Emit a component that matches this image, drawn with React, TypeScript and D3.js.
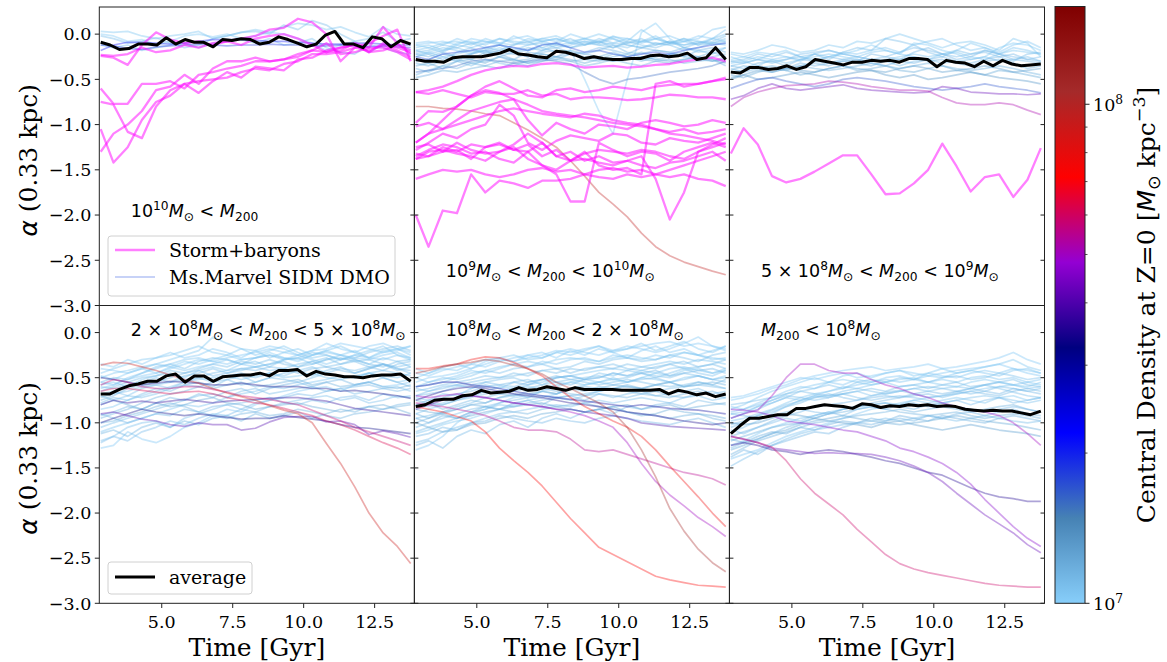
import React from "react";
import * as d3 from "d3";

// ---------- time grids (Gyr) ----------
const T_FINE = [2.85, 3.18, 3.51, 3.84, 4.17, 4.5, 4.83, 5.16, 5.49, 5.82, 6.15, 6.48, 6.81, 7.14, 7.47, 7.8, 8.13, 8.46, 8.79, 9.12, 9.45, 9.78, 10.11, 10.44, 10.77, 11.1, 11.43, 11.76, 12.09, 12.42, 12.75, 13.08, 13.41, 13.77];
const T_COARSE = [2.85, 3.3, 3.8, 4.3, 4.8, 5.3, 5.8, 6.3, 6.8, 7.3, 7.8, 8.3, 8.8, 9.3, 9.8, 10.3, 10.8, 11.3, 11.8, 12.3, 12.8, 13.3, 13.77];

const X_TICKS = [5, 7.5, 10, 12.5];
const Y_TICKS = [-3, -2.5, -2, -1.5, -1, -0.5, 0];
const CB_MAJOR = [1e7, 1e8];
const CB_MINOR = [2e7, 3e7, 4e7, 5e7, 6e7, 7e7, 8e7, 9e7];
const CMAP_COLORS = ["lightskyblue", "steelblue", "blue", "navy", "darkviolet", "red", "brown", "maroon"];
const DENS_MIN = 1e7;
const DENS_MAX = 1.57e8;

// ---------- panel 1 : 1e10 < M200 ----------
const P1_AVG = [-0.09, -0.12, -0.17, -0.16, -0.11, -0.11, -0.12, -0.04, -0.11, -0.06, -0.09, -0.09, -0.14, -0.06, -0.07, -0.05, -0.06, -0.11, -0.09, -0.03, -0.06, -0.10, -0.14, -0.11, -0.01, 0.03, -0.11, -0.11, -0.15, -0.03, -0.05, -0.14, -0.07, -0.11];
const P1_STORM = [
  [-0.24, -0.26, -0.34, -0.12, 0.02, -0.06, -0.10, -0.08, -0.12, -0.08, -0.05, -0.02, 0.05, 0.07, 0.17, 0.13, 0.00, -0.30, -0.15, -0.10, -0.02, 0.05, -0.30],
  [-0.60, -0.77, -0.77, -0.55, -0.55, -0.52, -0.60, -0.45, -0.42, -0.38, -0.35, -0.30, -0.30, -0.28, -0.22, -0.18, -0.20, -0.15, -0.12, -0.20, -0.10, -0.15, -0.20],
  [-1.05, -1.42, -1.25, -0.95, -0.75, -0.68, -0.55, -0.52, -0.50, -0.48, -0.42, -0.38, -0.40, -0.33, -0.30, -0.22, -0.22, -0.20, -0.15, -0.18, -0.12, -0.18, -0.25],
  [-1.30, -1.10, -1.00, -0.85, -0.62, -0.58, -0.45, -0.55, -0.38, -0.30, -0.30, -0.26, -0.30, -0.28, -0.25, -0.18, -0.10, -0.22, -0.20, -0.15, -0.15, -0.20, -0.28],
  [-0.75, -0.78, -1.08, -1.15, -0.80, -0.62, -0.55, -0.65, -0.52, -0.42, -0.48, -0.36, -0.38, -0.40, -0.28, -0.26, -0.18, -0.15, -0.12, -0.20, -0.18, -0.12, -0.18],
  [-0.23, -0.24, -0.22, -0.15, -0.20, -0.18, -0.12, -0.15, -0.10, -0.08, -0.12, -0.05, -0.02, 0.00, -0.05, -0.12, -0.20, -0.18, -0.10, -0.15, 0.08, -0.10, -0.22],
];
const P1_DMO = [
  [1.05e7, [0.03, 0.02, 0.03, -0.02, -0.05, -0.02, 0.00, 0.03, -0.05, -0.02, 0.02, 0.05, 0.02, 0.08, 0.12, 0.10, 0.05, 0.08, 0.02, -0.03, 0.08, 0.00, -0.02]],
  [1.1e7, [-0.02, -0.05, -0.10, -0.08, -0.04, -0.10, -0.15, -0.12, -0.05, -0.02, 0.02, 0.03, 0.00, 0.10, 0.05, 0.15, 0.10, 0.00, -0.08, -0.05, 0.02, -0.08, -0.05]],
  [1.08e7, [-0.12, -0.15, -0.12, -0.18, -0.15, -0.12, -0.10, -0.15, -0.10, -0.08, -0.06, -0.10, -0.05, -0.12, -0.10, -0.05, -0.15, -0.20, -0.22, -0.12, -0.15, -0.20, -0.22]],
  [1.02e7, [0.00, -0.02, -0.08, -0.06, -0.12, -0.08, -0.02, 0.00, -0.03, 0.00, -0.05, -0.02, 0.02, 0.00, -0.05, -0.10, -0.18, -0.12, -0.08, -0.20, -0.12, -0.12, -0.18]],
  [2.1e7, [-0.18, -0.12, -0.09, -0.09, -0.10, -0.11, -0.10, -0.08, -0.06, -0.06, -0.06, -0.07, -0.08, -0.08, -0.09, -0.10, -0.11, -0.11, -0.10, -0.10, -0.11, -0.12, -0.12]],
  [1.9e7, [-0.12, -0.13, -0.16, -0.17, -0.14, -0.13, -0.12, -0.11, -0.12, -0.13, -0.12, -0.12, -0.11, -0.12, -0.12, -0.13, -0.13, -0.12, -0.13, -0.14, -0.13, -0.14, -0.15]],
];

// ---------- panel 2 : 1e9 < M200 < 1e10 ----------
const P2_AVG = [-0.28, -0.30, -0.30, -0.31, -0.26, -0.25, -0.25, -0.25, -0.23, -0.21, -0.17, -0.22, -0.23, -0.25, -0.26, -0.19, -0.20, -0.23, -0.27, -0.25, -0.27, -0.28, -0.28, -0.27, -0.27, -0.24, -0.23, -0.25, -0.24, -0.21, -0.28, -0.26, -0.15, -0.28];
const P2_STORM = [
  [-0.64, -0.62, -0.58, -0.52, -0.45, -0.40, -0.37, -0.35, -0.36, -0.33, -0.32, -0.34, -0.37, -0.36, -0.35, -0.37, -0.36, -0.34, -0.33, -0.30, -0.28, -0.26, -0.30],
  [-0.64, -0.66, -0.62, -0.66, -0.70, -0.64, -0.66, -0.66, -0.62, -0.68, -0.66, -0.72, -0.70, -0.70, -0.71, -0.73, -0.72, -0.70, -0.67, -0.68, -0.70, -0.70, -0.72],
  [-0.98, -0.85, -0.86, -0.80, -0.68, -0.58, -0.52, -0.60, -0.68, -0.70, -0.62, -0.60, -0.64, -0.62, -0.58, -0.60, -0.62, -0.58, -0.56, -0.55, -0.55, -0.52, -0.50],
  [-1.02, -0.98, -1.05, -0.95, -0.85, -0.80, -0.75, -0.72, -0.95, -1.12, -0.98, -1.05, -1.10, -1.00, -1.02, -1.05, -0.98, -0.95, -0.98, -1.02, -1.00, -0.95, -0.98],
  [-1.28, -1.20, -1.10, -1.15, -1.05, -1.00, -0.78, -0.90, -1.20, -1.28, -1.18, -1.12, -1.15, -1.18, -1.10, -1.12, -1.20, -1.22, -1.15, -1.18, -1.20, -1.15, -1.10],
  [-1.32, -1.35, -1.30, -1.28, -1.38, -1.25, -1.22, -1.28, -1.30, -1.20, -1.35, -1.40, -1.32, -1.28, -1.30, -1.32, -1.28, -1.30, -1.35, -1.38, -1.30, -1.25, -1.20],
  [-1.38, -1.30, -1.28, -1.32, -1.35, -1.40, -1.30, -1.25, -1.38, -1.45, -1.50, -1.40, -1.38, -1.42, -1.45, -1.40, -1.45, -1.48, -1.42, -1.40, -1.35, -1.30, -1.40],
  [-1.60, -1.55, -1.50, -1.52, -1.50, -1.55, -1.58, -1.55, -1.50, -1.48, -1.52, -1.50, -1.55, -1.50, -1.48, -1.52, -1.50, -1.55, -1.58, -1.55, -1.60, -1.62, -1.68],
  [-2.00, -2.35, -1.95, -1.98, -1.55, -1.75, -1.62, -1.65, -1.70, -1.62, -1.62, -1.60, -1.55, -1.58, -1.60, -1.55, -1.58, -1.55, -1.50, -1.45, -1.40, -1.35, -1.30],
  [-1.38, -1.35, -1.25, -1.30, -1.22, -1.25, -1.20, -1.28, -1.22, -1.35, -1.28, -1.40, -1.30, -1.45, -1.50, -1.48, -1.55, -0.55, -0.52, -0.58, -0.55, -0.52, -0.48],
  [-1.25, -1.22, -1.30, -1.20, -1.28, -1.32, -1.30, -1.22, -1.10, -1.20, -1.35, -1.30, -1.40, -1.35, -1.42, -1.40, -1.35, -1.60, -2.05, -1.75, -1.30, -1.22, -1.15],
  [-1.35, -1.28, -1.22, -1.25, -1.32, -1.30, -1.38, -1.42, -1.30, -1.45, -1.55, -1.85, -1.85, -1.20, -1.28, -1.35, -1.30, -1.32, -1.40, -1.30, -1.25, -1.20, -1.25],
  [-1.20, -1.10, -0.95, -0.80, -0.68, -0.62, -0.65, -0.72, -0.78, -0.85, -0.88, -0.90, -0.92, -0.95, -0.98, -1.00, -1.02, -1.05, -1.10, -1.12, -1.15, -1.18, -1.22],
  [-1.20, -1.10, -1.05, -1.00, -0.95, -0.90, -0.85, -0.82, -0.85, -0.88, -0.90, -0.92, -0.88, -0.90, -0.95, -0.98, -1.00, -1.05, -1.08, -1.05, -1.10, -1.08, -1.05],
];
const P2_DMO = [
  [1.05e7, [-0.15, -0.12, -0.18, -0.10, -0.08, -0.12, -0.05, -0.08, -0.10, -0.05, -0.02, -0.08, -0.05, -0.10, -0.02, -0.08, 0.05, -0.05, -0.10, -0.08, -0.12, -0.05, 0.05]],
  [1.1e7, [-0.20, -0.18, -0.12, -0.15, -0.10, -0.15, -0.18, -0.12, -0.08, -0.15, -0.10, -0.05, -0.12, -0.08, -0.15, -0.10, -0.05, -0.12, -0.08, -0.15, -0.10, -0.08, -0.02]],
  [1.12e7, [-0.25, -0.22, -0.28, -0.20, -0.15, -0.22, -0.18, -0.20, -0.25, -0.18, -0.15, -0.20, -0.22, -0.18, -0.12, -0.20, -0.22, -0.18, -0.20, -0.15, -0.18, -0.22, -0.15]],
  [1.15e7, [-0.30, -0.28, -0.22, -0.25, -0.28, -0.20, -0.22, -0.28, -0.20, -0.22, -0.25, -0.18, -0.22, -0.25, -0.20, -0.25, -0.20, -0.25, -0.22, -0.20, -0.25, -0.20, -0.25]],
  [1.05e7, [-0.12, -0.15, -0.10, -0.08, -0.12, -0.05, -0.10, -0.12, -0.05, -0.08, -0.12, -0.10, -0.05, 0.00, -0.05, -0.10, -0.08, -0.02, -0.10, -0.05, -0.08, -0.10, -0.12]],
  [1.2e7, [-0.35, -0.32, -0.38, -0.30, -0.28, -0.32, -0.25, -0.30, -0.28, -0.22, -0.25, -0.28, -0.32, -0.28, -0.30, -0.25, -0.28, -0.30, -0.32, -0.28, -0.25, -0.30, -0.28]],
  [1.15e7, [-0.45, -0.40, -0.35, -0.38, -0.32, -0.35, -0.30, -0.28, -0.32, -0.30, -0.25, -0.30, -0.35, -0.32, -0.28, -0.32, -0.35, -0.30, -0.28, -0.32, -0.30, -0.28, -0.35]],
  [1.08e7, [-0.18, -0.22, -0.18, -0.15, -0.20, -0.18, -0.12, -0.15, -0.18, -0.12, -0.10, -0.15, -0.12, -0.05, -0.10, -0.12, -0.15, -0.10, -0.12, -0.18, -0.15, -0.10, -0.08]],
  [1.02e7, [-0.25, -0.20, -0.25, -0.22, -0.18, -0.20, -0.15, -0.20, -0.18, -0.15, -0.20, -0.18, -0.50, -0.85, -1.10, -0.50, 0.02, 0.12, -0.05, -0.15, -0.20, -0.18, -0.15]],
  [1.04e7, [-0.10, -0.08, -0.12, -0.05, -0.10, -0.08, -0.12, -0.02, -0.08, -0.05, -0.08, 0.00, -0.05, -0.08, -0.03, -0.05, -0.10, -0.05, -0.02, -0.08, -0.05, 0.05, 0.08]],
  [1.1e7, [-0.38, -0.42, -0.35, -0.30, -0.35, -0.28, -0.32, -0.35, -0.30, -0.25, -0.28, -0.22, -0.25, -0.28, -0.22, -0.25, -0.30, -0.25, -0.22, -0.25, -0.28, -0.25, -0.22]],
  [1.12e7, [-0.22, -0.25, -0.20, -0.25, -0.22, -0.18, -0.20, -0.22, -0.25, -0.20, -0.18, -0.22, -0.20, -0.15, -0.18, -0.22, -0.15, -0.18, -0.20, -0.25, -0.18, -0.15, -0.20]],
  [1.1e7, [-0.28, -0.32, -0.25, -0.30, -0.22, -0.18, -0.25, -0.20, -0.15, -0.18, -0.12, -0.15, -0.10, -0.12, -0.15, -0.08, -0.12, -0.15, -0.10, -0.05, -0.12, -0.10, -0.05]],
  [1.06e7, [-0.18, -0.15, -0.20, -0.12, -0.15, -0.10, -0.05, -0.10, -0.12, -0.08, -0.05, -0.10, -0.12, -0.08, -0.12, -0.15, -0.08, -0.05, -0.10, -0.12, -0.08, -0.12, -0.10]],
  [1.14e7, [-0.32, -0.35, -0.30, -0.28, -0.32, -0.30, -0.25, -0.28, -0.32, -0.28, -0.25, -0.22, -0.28, -0.30, -0.25, -0.22, -0.25, -0.28, -0.25, -0.22, -0.28, -0.30, -0.25]],
  [1.03e7, [-0.12, -0.10, -0.08, -0.12, -0.05, -0.08, -0.10, -0.05, -0.02, -0.08, -0.05, -0.10, -0.08, -0.12, -0.10, -0.05, -0.08, -0.10, -0.12, -0.08, -0.02, -0.05, -0.08]],
  [1.18e7, [-0.48, -0.45, -0.40, -0.42, -0.38, -0.35, -0.38, -0.32, -0.35, -0.30, -0.28, -0.30, -0.28, -0.25, -0.30, -0.28, -0.25, -0.28, -0.30, -0.28, -0.25, -0.28, -0.32]],
  [1.07e7, [-0.22, -0.20, -0.15, -0.18, -0.22, -0.15, -0.12, -0.18, -0.12, -0.10, -0.15, -0.12, -0.08, -0.10, -0.05, -0.12, -0.15, -0.12, -0.08, -0.12, -0.10, -0.05, 0.00]],
  [1.6e7, [-0.42, -0.40, -0.38, -0.35, -0.30, -0.28, -0.30, -0.32, -0.30, -0.28, -0.30, -0.33, -0.42, -0.50, -0.55, -0.50, -0.48, -0.45, -0.42, -0.40, -0.38, -0.35, -0.30]],
  [1.8e7, [-0.25, -0.28, -0.22, -0.20, -0.18, -0.15, -0.12, -0.15, -0.18, -0.12, -0.10, -0.15, -0.20, -0.18, -0.22, -0.25, -0.22, -0.20, -0.22, -0.18, -0.15, -0.12, -0.10]],
  [9.5e7, [-0.80, -0.80, -0.82, -0.83, -0.85, -0.88, -0.90, -0.98, -1.06, -1.15, -1.25, -1.40, -1.57, -1.75, -1.88, -2.02, -2.20, -2.35, -2.45, -2.52, -2.57, -2.62, -2.66]],
];

// ---------- panel 3 : 5e8 < M200 < 1e9 ----------
const P3_AVG = [-0.42, -0.43, -0.37, -0.37, -0.39, -0.38, -0.35, -0.39, -0.36, -0.28, -0.30, -0.32, -0.34, -0.31, -0.31, -0.29, -0.30, -0.29, -0.31, -0.27, -0.27, -0.28, -0.36, -0.29, -0.31, -0.32, -0.36, -0.30, -0.35, -0.29, -0.33, -0.35, -0.34, -0.33];
const P3_STORM = [
  [-1.32, -1.04, -1.22, -1.57, -1.64, -1.60, -1.52, -1.43, -1.34, -1.34, -1.55, -1.77, -1.76, -1.65, -1.50, -1.21, -1.46, -1.74, -1.58, -1.55, -1.80, -1.61, -1.26],
];
const P3_DMO = [
  [1.05e7, [-0.20, -0.22, -0.18, -0.12, -0.15, -0.20, -0.18, -0.12, -0.15, -0.08, -0.10, -0.05, 0.00, -0.05, -0.10, -0.15, -0.10, -0.08, -0.12, -0.18, -0.05, -0.10, -0.25]],
  [1.1e7, [-0.30, -0.28, -0.22, -0.25, -0.20, -0.25, -0.22, -0.28, -0.20, -0.15, -0.18, -0.05, -0.08, -0.12, -0.20, -0.25, -0.18, -0.22, -0.20, -0.25, -0.30, -0.22, -0.20]],
  [1.12e7, [-0.35, -0.38, -0.32, -0.30, -0.35, -0.28, -0.30, -0.25, -0.28, -0.30, -0.22, -0.25, -0.28, -0.20, -0.15, -0.22, -0.28, -0.25, -0.18, -0.22, -0.28, -0.30, -0.32]],
  [1.15e7, [-0.40, -0.35, -0.38, -0.42, -0.38, -0.35, -0.32, -0.35, -0.30, -0.32, -0.35, -0.30, -0.28, -0.25, -0.30, -0.28, -0.32, -0.35, -0.30, -0.28, -0.32, -0.38, -0.35]],
  [1.2e7, [-0.45, -0.48, -0.42, -0.38, -0.40, -0.45, -0.42, -0.38, -0.35, -0.40, -0.38, -0.35, -0.40, -0.42, -0.38, -0.35, -0.40, -0.42, -0.45, -0.40, -0.42, -0.45, -0.48]],
  [1.05e7, [-0.25, -0.30, -0.25, -0.28, -0.32, -0.28, -0.25, -0.22, -0.25, -0.28, -0.30, -0.28, -0.25, -0.22, -0.25, -0.22, -0.18, -0.10, -0.15, -0.22, -0.18, -0.20, -0.22]],
  [1.3e7, [-0.50, -0.45, -0.50, -0.48, -0.45, -0.42, -0.45, -0.48, -0.45, -0.42, -0.40, -0.45, -0.48, -0.45, -0.50, -0.48, -0.45, -0.42, -0.45, -0.48, -0.50, -0.52, -0.55]],
  [1.08e7, [-0.35, -0.32, -0.28, -0.32, -0.28, -0.25, -0.30, -0.32, -0.28, -0.25, -0.28, -0.30, -0.35, -0.30, -0.28, -0.32, -0.30, -0.28, -0.25, -0.30, -0.28, -0.25, -0.30]],
  [1.02e7, [-0.28, -0.25, -0.20, -0.22, -0.18, -0.25, -0.28, -0.25, -0.22, -0.18, -0.12, -0.18, -0.22, -0.10, -0.12, -0.18, -0.22, -0.28, -0.25, -0.15, -0.10, -0.12, -0.18]],
  [1.15e7, [-0.42, -0.40, -0.35, -0.38, -0.40, -0.35, -0.38, -0.40, -0.38, -0.35, -0.32, -0.35, -0.38, -0.35, -0.32, -0.35, -0.38, -0.40, -0.38, -0.35, -0.38, -0.42, -0.45]],
  [1.04e7, [-0.32, -0.30, -0.35, -0.28, -0.25, -0.30, -0.22, -0.25, -0.20, -0.22, -0.18, -0.15, -0.20, -0.12, -0.08, -0.05, -0.12, -0.18, -0.15, -0.20, -0.12, -0.08, -0.15]],
  [1.12e7, [-0.38, -0.42, -0.38, -0.35, -0.38, -0.32, -0.35, -0.32, -0.30, -0.28, -0.32, -0.35, -0.30, -0.32, -0.28, -0.25, -0.30, -0.32, -0.28, -0.25, -0.22, -0.28, -0.30]],
  [1.06e7, [-0.22, -0.25, -0.28, -0.22, -0.25, -0.28, -0.22, -0.18, -0.22, -0.25, -0.20, -0.18, -0.22, -0.25, -0.28, -0.22, -0.20, -0.25, -0.28, -0.22, -0.15, -0.18, -0.22]],
  [1.25e7, [-0.48, -0.45, -0.40, -0.42, -0.38, -0.40, -0.42, -0.38, -0.35, -0.38, -0.40, -0.42, -0.38, -0.35, -0.38, -0.42, -0.40, -0.38, -0.35, -0.38, -0.42, -0.40, -0.38]],
  [1.09e7, [-0.30, -0.32, -0.28, -0.30, -0.28, -0.22, -0.20, -0.18, -0.22, -0.25, -0.28, -0.25, -0.20, -0.15, -0.18, -0.22, -0.25, -0.22, -0.18, -0.22, -0.25, -0.28, -0.25]],
  [1.7e7, [-0.60, -0.55, -0.50, -0.48, -0.52, -0.55, -0.58, -0.55, -0.50, -0.48, -0.50, -0.52, -0.55, -0.58, -0.60, -0.62, -0.60, -0.58, -0.55, -0.58, -0.60, -0.62, -0.65]],
  [4.2e7, [-0.72, -0.68, -0.60, -0.55, -0.60, -0.62, -0.60, -0.58, -0.56, -0.60, -0.62, -0.63, -0.64, -0.65, -0.64, -0.58, -0.60, -0.64, -0.65, -0.66, -0.66, -0.67, -0.66]],
  [5.2e7, [-0.80, -0.70, -0.64, -0.60, -0.57, -0.56, -0.55, -0.52, -0.53, -0.55, -0.58, -0.60, -0.62, -0.62, -0.63, -0.70, -0.76, -0.78, -0.78, -0.76, -0.78, -0.84, -0.89]],
];

// ---------- panel 4 : 2e8 < M200 < 5e8 ----------
const P4_AVG = [-0.68, -0.68, -0.63, -0.59, -0.57, -0.54, -0.54, -0.48, -0.46, -0.55, -0.48, -0.48, -0.54, -0.49, -0.48, -0.47, -0.47, -0.45, -0.48, -0.42, -0.42, -0.41, -0.48, -0.43, -0.46, -0.47, -0.49, -0.49, -0.50, -0.48, -0.47, -0.47, -0.46, -0.54];
const P4_DMO = [
  [1.05e7, [-0.45, -0.40, -0.35, -0.30, -0.28, -0.25, -0.20, -0.15, -0.22, -0.25, -0.18, -0.20, -0.28, -0.22, -0.18, -0.25, -0.20, -0.15, -0.22, -0.28, -0.20, -0.18, -0.25]],
  [1.08e7, [-0.55, -0.50, -0.52, -0.45, -0.38, -0.35, -0.40, -0.32, -0.28, -0.30, -0.35, -0.28, -0.25, -0.30, -0.28, -0.22, -0.25, -0.30, -0.28, -0.22, -0.18, -0.15, -0.20]],
  [1.1e7, [-0.65, -0.60, -0.55, -0.50, -0.48, -0.42, -0.45, -0.40, -0.35, -0.38, -0.32, -0.35, -0.30, -0.35, -0.38, -0.32, -0.28, -0.35, -0.30, -0.35, -0.38, -0.32, -0.30]],
  [1.12e7, [-0.75, -0.70, -0.62, -0.58, -0.55, -0.50, -0.45, -0.42, -0.48, -0.45, -0.40, -0.42, -0.38, -0.40, -0.45, -0.40, -0.38, -0.42, -0.45, -0.40, -0.35, -0.40, -0.42]],
  [1.05e7, [-0.85, -0.82, -0.75, -0.70, -0.65, -0.60, -0.55, -0.52, -0.50, -0.48, -0.52, -0.48, -0.45, -0.50, -0.48, -0.45, -0.50, -0.52, -0.48, -0.45, -0.50, -0.55, -0.52]],
  [1.15e7, [-0.95, -0.90, -0.85, -0.78, -0.72, -0.68, -0.65, -0.60, -0.62, -0.58, -0.55, -0.60, -0.58, -0.55, -0.52, -0.58, -0.55, -0.60, -0.58, -0.55, -0.60, -0.62, -0.58]],
  [1.1e7, [-1.05, -1.00, -0.95, -0.90, -0.85, -0.80, -0.75, -0.70, -0.68, -0.72, -0.65, -0.62, -0.68, -0.65, -0.62, -0.60, -0.65, -0.62, -0.68, -0.65, -0.62, -0.60, -0.65]],
  [1.08e7, [-1.20, -1.15, -1.05, -1.00, -0.98, -1.05, -0.95, -0.90, -0.85, -0.80, -0.78, -0.75, -0.72, -0.78, -0.75, -0.72, -0.70, -0.75, -0.72, -0.78, -0.75, -0.70, -0.72]],
  [1.03e7, [-1.28, -1.25, -1.10, -1.18, -1.22, -1.15, -1.05, -1.00, -0.92, -0.85, -0.88, -0.80, -0.75, -0.70, -0.65, -0.62, -0.60, -0.65, -0.58, -0.55, -0.60, -0.58, -0.55]],
  [1.2e7, [-0.70, -0.75, -0.80, -0.85, -0.78, -0.82, -0.80, -0.75, -0.72, -0.78, -0.80, -0.85, -0.82, -0.80, -0.78, -0.82, -0.85, -0.88, -0.85, -0.82, -0.80, -0.85, -0.90]],
  [1.05e7, [-0.50, -0.45, -0.42, -0.38, -0.35, -0.30, -0.25, -0.20, -0.05, -0.12, -0.18, -0.25, -0.20, -0.15, -0.22, -0.28, -0.25, -0.30, -0.25, -0.20, -0.15, -0.25, -0.30]],
  [1.1e7, [-0.60, -0.62, -0.58, -0.55, -0.50, -0.55, -0.48, -0.45, -0.40, -0.45, -0.42, -0.38, -0.35, -0.32, -0.38, -0.35, -0.30, -0.28, -0.32, -0.38, -0.42, -0.35, -0.32]],
  [1.12e7, [-0.90, -0.95, -1.00, -0.95, -0.90, -0.92, -0.85, -0.88, -0.82, -0.80, -0.85, -0.78, -0.75, -0.72, -0.68, -0.70, -0.65, -0.62, -0.60, -0.58, -0.62, -0.65, -0.62]],
  [1.04e7, [-0.40, -0.42, -0.45, -0.40, -0.35, -0.38, -0.42, -0.38, -0.35, -0.30, -0.35, -0.38, -0.35, -0.30, -0.25, -0.30, -0.35, -0.30, -0.25, -0.28, -0.30, -0.25, -0.28]],
  [1.1e7, [-0.80, -0.75, -0.70, -0.72, -0.68, -0.62, -0.58, -0.60, -0.55, -0.52, -0.58, -0.55, -0.50, -0.52, -0.55, -0.50, -0.45, -0.48, -0.50, -0.45, -0.42, -0.45, -0.48]],
  [1.06e7, [-1.10, -1.05, -1.00, -0.95, -0.90, -0.85, -0.80, -0.82, -0.78, -0.72, -0.68, -0.65, -0.60, -0.62, -0.58, -0.55, -0.52, -0.48, -0.50, -0.45, -0.48, -0.50, -0.45]],
  [1.03e7, [-0.55, -0.58, -0.52, -0.48, -0.45, -0.40, -0.35, -0.30, -0.32, -0.28, -0.25, -0.22, -0.18, -0.22, -0.25, -0.20, -0.18, -0.12, -0.15, -0.18, -0.22, -0.20, -0.15]],
  [1.08e7, [-0.72, -0.68, -0.65, -0.60, -0.58, -0.55, -0.52, -0.50, -0.45, -0.42, -0.40, -0.38, -0.42, -0.40, -0.35, -0.32, -0.38, -0.35, -0.32, -0.30, -0.35, -0.38, -0.35]],
  [1.15e7, [-1.00, -0.98, -0.92, -0.88, -0.82, -0.78, -0.82, -0.88, -0.92, -0.95, -0.90, -0.88, -0.92, -0.90, -0.85, -0.88, -0.92, -0.95, -0.90, -0.88, -0.85, -0.82, -0.80]],
  [1.04e7, [-0.62, -0.58, -0.50, -0.45, -0.40, -0.35, -0.30, -0.28, -0.32, -0.35, -0.30, -0.28, -0.25, -0.28, -0.30, -0.25, -0.22, -0.25, -0.28, -0.30, -0.25, -0.22, -0.28]],
  [1.09e7, [-1.22, -1.15, -1.20, -1.10, -1.05, -0.98, -1.02, -0.95, -0.90, -0.92, -0.85, -0.88, -0.82, -0.78, -0.80, -0.75, -0.78, -0.72, -0.70, -0.75, -0.68, -0.72, -0.70]],
  [1.03e7, [-0.35, -0.38, -0.30, -0.35, -0.28, -0.22, -0.28, -0.25, -0.18, -0.22, -0.28, -0.20, -0.15, -0.18, -0.25, -0.20, -0.12, -0.18, -0.22, -0.15, -0.12, -0.18, -0.22]],
  [1.1e7, [-0.78, -0.72, -0.75, -0.68, -0.62, -0.65, -0.58, -0.55, -0.60, -0.52, -0.48, -0.55, -0.50, -0.45, -0.42, -0.48, -0.42, -0.38, -0.45, -0.40, -0.35, -0.42, -0.38]],
  [1.13e7, [-0.92, -0.88, -0.82, -0.85, -0.78, -0.72, -0.75, -0.68, -0.72, -0.65, -0.62, -0.68, -0.62, -0.58, -0.55, -0.60, -0.55, -0.52, -0.58, -0.55, -0.50, -0.55, -0.60]],
  [1.06e7, [-0.58, -0.55, -0.60, -0.52, -0.48, -0.45, -0.50, -0.42, -0.38, -0.42, -0.35, -0.32, -0.38, -0.30, -0.28, -0.35, -0.30, -0.25, -0.30, -0.35, -0.28, -0.32, -0.38]],
  [1.14e7, [-1.12, -1.08, -1.15, -1.05, -1.00, -1.05, -0.98, -1.02, -0.95, -0.92, -0.98, -0.90, -0.95, -0.92, -0.88, -0.95, -0.90, -0.85, -0.88, -0.82, -0.85, -0.80, -0.78]],
  [1.02e7, [-0.48, -0.52, -0.45, -0.40, -0.45, -0.38, -0.32, -0.35, -0.30, -0.25, -0.30, -0.28, -0.22, -0.28, -0.32, -0.25, -0.20, -0.25, -0.20, -0.28, -0.22, -0.18, -0.15]],
  [1.07e7, [-0.68, -0.65, -0.70, -0.62, -0.58, -0.62, -0.55, -0.50, -0.55, -0.48, -0.45, -0.50, -0.45, -0.48, -0.42, -0.38, -0.45, -0.40, -0.42, -0.38, -0.35, -0.40, -0.45]],
  [3.3e7, [-0.50, -0.52, -0.55, -0.58, -0.56, -0.54, -0.55, -0.56, -0.58, -0.58, -0.56, -0.58, -0.60, -0.60, -0.60, -0.62, -0.62, -0.65, -0.64, -0.66, -0.68, -0.70, -0.73]],
  [3.2e7, [-1.00, -0.95, -0.90, -0.85, -0.88, -0.90, -0.92, -0.90, -0.92, -0.94, -0.96, -0.95, -0.95, -0.92, -0.94, -0.96, -0.98, -1.02, -1.05, -1.06, -1.08, -1.10, -1.12]],
  [3.6e7, [-0.80, -0.75, -0.78, -0.76, -0.78, -0.76, -0.74, -0.76, -0.78, -0.76, -0.75, -0.74, -0.73, -0.72, -0.72, -0.74, -0.76, -0.80, -0.84, -0.86, -0.88, -0.90, -0.92]],
  [4.0e7, [-0.90, -0.88, -0.92, -0.96, -0.98, -1.02, -1.04, -1.00, -1.02, -1.02, -1.08, -1.06, -0.99, -0.94, -0.93, -0.93, -0.99, -0.98, -1.02, -1.13, -1.09, -1.12, -1.16]],
  [5.8e7, [-0.58, -0.52, -0.55, -0.60, -0.62, -0.62, -0.60, -0.60, -0.63, -0.66, -0.70, -0.72, -0.74, -0.77, -0.80, -0.86, -0.92, -0.98, -1.05, -1.10, -1.15, -1.20, -1.25]],
  [6.2e7, [-0.65, -0.62, -0.62, -0.64, -0.66, -0.68, -0.66, -0.65, -0.68, -0.72, -0.75, -0.78, -0.80, -0.84, -0.88, -0.92, -0.98, -1.02, -1.08, -1.15, -1.22, -1.28, -1.35]],
  [9.0e7, [-0.36, -0.33, -0.34, -0.38, -0.42, -0.47, -0.52, -0.56, -0.62, -0.67, -0.71, -0.75, -0.81, -0.86, -0.90, -1.00, -1.23, -1.45, -1.71, -2.00, -2.22, -2.37, -2.56]],
];

// ---------- panel 5 : 1e8 < M200 < 2e8 ----------
const P5_AVG = [-0.82, -0.80, -0.75, -0.74, -0.74, -0.70, -0.69, -0.64, -0.67, -0.66, -0.65, -0.61, -0.64, -0.63, -0.60, -0.62, -0.64, -0.61, -0.63, -0.63, -0.63, -0.63, -0.64, -0.64, -0.64, -0.64, -0.63, -0.68, -0.64, -0.66, -0.69, -0.67, -0.71, -0.68];
const P5_DMO = [
  [1.05e7, [-0.50, -0.45, -0.40, -0.42, -0.35, -0.30, -0.28, -0.25, -0.30, -0.28, -0.22, -0.25, -0.20, -0.15, -0.22, -0.18, -0.12, -0.20, -0.15, -0.10, -0.18, -0.22, -0.15]],
  [1.08e7, [-0.60, -0.55, -0.50, -0.52, -0.48, -0.42, -0.45, -0.40, -0.38, -0.35, -0.40, -0.38, -0.32, -0.35, -0.30, -0.28, -0.32, -0.30, -0.25, -0.28, -0.32, -0.25, -0.22]],
  [1.1e7, [-0.70, -0.65, -0.62, -0.58, -0.55, -0.52, -0.50, -0.48, -0.45, -0.42, -0.45, -0.40, -0.42, -0.38, -0.40, -0.35, -0.38, -0.40, -0.35, -0.32, -0.38, -0.35, -0.30]],
  [1.12e7, [-0.80, -0.75, -0.72, -0.68, -0.65, -0.60, -0.58, -0.55, -0.58, -0.52, -0.50, -0.48, -0.52, -0.50, -0.45, -0.48, -0.45, -0.42, -0.48, -0.45, -0.42, -0.40, -0.45]],
  [1.05e7, [-0.90, -0.85, -0.80, -0.75, -0.72, -0.68, -0.65, -0.62, -0.60, -0.62, -0.58, -0.55, -0.58, -0.55, -0.52, -0.55, -0.50, -0.52, -0.55, -0.50, -0.48, -0.52, -0.50]],
  [1.15e7, [-1.00, -0.95, -0.90, -0.85, -0.80, -0.78, -0.72, -0.70, -0.68, -0.65, -0.68, -0.62, -0.60, -0.62, -0.58, -0.60, -0.62, -0.58, -0.55, -0.60, -0.58, -0.55, -0.58]],
  [1.1e7, [-1.10, -1.05, -1.00, -0.95, -0.88, -0.85, -0.80, -0.82, -0.78, -0.75, -0.72, -0.75, -0.70, -0.68, -0.72, -0.68, -0.65, -0.70, -0.68, -0.65, -0.62, -0.68, -0.65]],
  [1.08e7, [-1.22, -1.18, -1.10, -1.05, -1.00, -0.95, -0.90, -0.88, -0.85, -0.82, -0.80, -0.82, -0.78, -0.75, -0.78, -0.75, -0.72, -0.75, -0.78, -0.72, -0.70, -0.75, -0.72]],
  [1.2e7, [-1.00, -1.05, -1.10, -1.08, -1.02, -1.00, -0.95, -0.92, -0.95, -0.90, -0.88, -0.85, -0.88, -0.85, -0.82, -0.80, -0.85, -0.82, -0.80, -0.85, -0.82, -0.80, -0.78]],
  [1.03e7, [-0.55, -0.50, -0.48, -0.45, -0.40, -0.35, -0.30, -0.32, -0.28, -0.25, -0.20, -0.22, -0.18, -0.15, -0.20, -0.18, -0.15, -0.12, -0.10, -0.15, -0.12, -0.15, -0.18]],
  [1.1e7, [-0.65, -0.62, -0.58, -0.55, -0.52, -0.48, -0.50, -0.45, -0.48, -0.42, -0.40, -0.45, -0.40, -0.38, -0.35, -0.40, -0.42, -0.38, -0.35, -0.40, -0.38, -0.35, -0.40]],
  [1.15e7, [-0.75, -0.78, -0.80, -0.75, -0.70, -0.65, -0.68, -0.70, -0.65, -0.62, -0.65, -0.68, -0.70, -0.65, -0.62, -0.65, -0.68, -0.70, -0.72, -0.68, -0.65, -0.70, -0.72]],
  [1.2e7, [-0.85, -0.88, -0.90, -0.95, -0.92, -0.88, -0.85, -0.82, -0.80, -0.78, -0.82, -0.85, -0.88, -0.85, -0.82, -0.88, -0.92, -0.90, -0.85, -0.88, -0.90, -0.92, -0.95]],
  [1.04e7, [-1.30, -1.25, -1.15, -1.00, -0.90, -0.85, -0.78, -0.72, -0.70, -0.65, -0.60, -0.55, -0.52, -0.50, -0.45, -0.48, -0.42, -0.45, -0.40, -0.38, -0.42, -0.45, -0.40]],
  [1.03e7, [-0.45, -0.48, -0.42, -0.38, -0.35, -0.38, -0.32, -0.28, -0.25, -0.28, -0.22, -0.18, -0.22, -0.25, -0.20, -0.15, -0.18, -0.22, -0.18, -0.12, -0.05, -0.15, -0.20]],
  [1.08e7, [-0.95, -0.92, -0.88, -0.82, -0.78, -0.72, -0.68, -0.65, -0.62, -0.58, -0.55, -0.52, -0.50, -0.48, -0.52, -0.50, -0.45, -0.48, -0.50, -0.45, -0.48, -0.52, -0.48]],
  [1.12e7, [-1.15, -1.12, -1.05, -1.08, -1.00, -0.98, -0.92, -0.95, -0.98, -1.00, -0.95, -0.98, -1.00, -0.95, -0.92, -0.95, -0.98, -1.00, -1.02, -0.98, -0.95, -1.00, -1.05]],
  [1.1e7, [-0.70, -0.68, -0.65, -0.60, -0.58, -0.55, -0.52, -0.50, -0.55, -0.52, -0.48, -0.52, -0.55, -0.58, -0.55, -0.52, -0.55, -0.58, -0.60, -0.58, -0.55, -0.58, -0.62]],
  [1.05e7, [-0.60, -0.58, -0.55, -0.50, -0.45, -0.42, -0.38, -0.35, -0.32, -0.35, -0.30, -0.28, -0.30, -0.32, -0.28, -0.25, -0.28, -0.30, -0.25, -0.22, -0.25, -0.28, -0.30]],
  [1.1e7, [-1.05, -1.00, -0.95, -0.90, -0.85, -0.82, -0.78, -0.75, -0.72, -0.70, -0.72, -0.70, -0.68, -0.65, -0.62, -0.60, -0.62, -0.65, -0.62, -0.60, -0.58, -0.60, -0.62]],
  [1.06e7, [-0.80, -0.82, -0.78, -0.72, -0.70, -0.65, -0.60, -0.62, -0.58, -0.55, -0.50, -0.48, -0.45, -0.42, -0.40, -0.42, -0.38, -0.35, -0.32, -0.35, -0.30, -0.32, -0.35]],
  [1.15e7, [-0.90, -0.95, -0.88, -0.85, -0.80, -0.82, -0.85, -0.88, -0.90, -0.85, -0.82, -0.80, -0.78, -0.82, -0.85, -0.88, -0.90, -0.92, -0.95, -0.92, -0.90, -0.95, -0.98]],
  [1.11e7, [-1.25, -1.20, -1.28, -1.15, -1.08, -1.12, -1.02, -0.98, -1.05, -0.95, -0.90, -0.95, -0.88, -0.85, -0.90, -0.82, -0.85, -0.80, -0.78, -0.82, -0.75, -0.78, -0.80]],
  [1.03e7, [-0.40, -0.45, -0.38, -0.35, -0.40, -0.32, -0.28, -0.32, -0.25, -0.22, -0.28, -0.20, -0.25, -0.18, -0.22, -0.28, -0.20, -0.15, -0.22, -0.18, -0.25, -0.20, -0.15]],
  [1.07e7, [-0.72, -0.75, -0.68, -0.70, -0.62, -0.58, -0.62, -0.55, -0.52, -0.58, -0.50, -0.48, -0.52, -0.45, -0.48, -0.42, -0.45, -0.50, -0.45, -0.40, -0.45, -0.48, -0.42]],
  [1.13e7, [-0.95, -1.00, -0.92, -0.95, -0.88, -0.82, -0.85, -0.78, -0.75, -0.80, -0.72, -0.70, -0.75, -0.68, -0.70, -0.72, -0.68, -0.65, -0.70, -0.72, -0.68, -0.65, -0.70]],
  [1.05e7, [-1.12, -1.08, -1.02, -0.98, -0.95, -0.90, -0.85, -0.80, -0.75, -0.72, -0.68, -0.62, -0.58, -0.55, -0.50, -0.55, -0.50, -0.45, -0.48, -0.42, -0.40, -0.45, -0.42]],
  [1.09e7, [-0.62, -0.65, -0.60, -0.58, -0.62, -0.55, -0.58, -0.60, -0.55, -0.52, -0.55, -0.58, -0.52, -0.55, -0.58, -0.55, -0.52, -0.50, -0.55, -0.52, -0.48, -0.52, -0.55]],
  [1.14e7, [-0.82, -0.78, -0.85, -0.80, -0.75, -0.78, -0.72, -0.68, -0.72, -0.65, -0.68, -0.62, -0.65, -0.60, -0.62, -0.58, -0.62, -0.58, -0.55, -0.60, -0.55, -0.58, -0.52]],
  [1.04e7, [-0.50, -0.55, -0.52, -0.48, -0.42, -0.45, -0.40, -0.35, -0.38, -0.32, -0.35, -0.30, -0.28, -0.32, -0.25, -0.28, -0.30, -0.25, -0.28, -0.22, -0.25, -0.30, -0.28]],
  [3.0e7, [-0.60, -0.58, -0.55, -0.55, -0.58, -0.60, -0.62, -0.65, -0.68, -0.70, -0.72, -0.74, -0.76, -0.78, -0.80, -0.82, -0.80, -0.82, -0.84, -0.85, -0.86, -0.88, -0.90]],
  [3.4e7, [-0.75, -0.70, -0.65, -0.62, -0.60, -0.62, -0.65, -0.68, -0.70, -0.72, -0.75, -0.78, -0.80, -0.82, -0.85, -0.88, -0.90, -0.92, -0.95, -0.98, -1.00, -1.02, -1.00]],
  [3.8e7, [-0.85, -0.80, -0.75, -0.72, -0.70, -0.72, -0.75, -0.78, -0.80, -0.82, -0.85, -0.85, -0.88, -0.90, -0.92, -0.95, -1.00, -1.02, -1.04, -1.05, -1.06, -1.07, -1.08]],
  [5.0e7, [-0.70, -0.72, -0.70, -0.68, -0.70, -0.72, -0.75, -0.78, -0.80, -0.82, -0.85, -0.88, -0.92, -0.98, -1.05, -1.22, -1.45, -1.65, -1.80, -1.92, -2.05, -2.15, -2.26]],
  [5.5e7, [-0.78, -0.80, -0.82, -0.85, -0.88, -0.92, -0.98, -1.05, -1.08, -1.08, -1.10, -1.18, -1.30, -1.32, -1.30, -1.35, -1.40, -1.45, -1.50, -1.55, -1.58, -1.62, -1.69]],
  [7.2e7, [-0.82, -0.85, -0.88, -0.93, -0.98, -1.10, -1.28, -1.42, -1.55, -1.70, -1.88, -2.06, -2.22, -2.38, -2.46, -2.54, -2.62, -2.70, -2.74, -2.77, -2.80, -2.81, -2.82]],
  [7.6e7, [-0.40, -0.40, -0.37, -0.35, -0.30, -0.27, -0.28, -0.33, -0.40, -0.48, -0.60, -0.72, -0.82, -0.90, -0.98, -1.05, -1.15, -1.30, -1.48, -1.65, -1.82, -2.00, -2.15]],
  [1.05e8, [-0.45, -0.42, -0.38, -0.35, -0.33, -0.30, -0.32, -0.36, -0.40, -0.46, -0.55, -0.62, -0.70, -0.78, -0.88, -1.05, -1.30, -1.60, -1.95, -2.20, -2.40, -2.55, -2.65]],
];

// ---------- panel 6 : M200 < 1e8 ----------
const P6_AVG = [-1.12, -1.03, -0.95, -0.95, -0.93, -0.91, -0.91, -0.84, -0.84, -0.82, -0.80, -0.81, -0.82, -0.84, -0.79, -0.80, -0.83, -0.81, -0.82, -0.80, -0.81, -0.80, -0.82, -0.81, -0.82, -0.85, -0.86, -0.87, -0.86, -0.87, -0.87, -0.89, -0.91, -0.87];
const P6_DMO = [
  [1.05e7, [-0.85, -0.80, -0.72, -0.65, -0.60, -0.55, -0.50, -0.55, -0.48, -0.45, -0.50, -0.45, -0.42, -0.48, -0.45, -0.40, -0.45, -0.42, -0.38, -0.35, -0.30, -0.38, -0.42]],
  [1.08e7, [-0.95, -0.90, -0.85, -0.78, -0.72, -0.65, -0.62, -0.58, -0.62, -0.55, -0.52, -0.55, -0.50, -0.52, -0.55, -0.50, -0.48, -0.52, -0.50, -0.45, -0.48, -0.52, -0.50]],
  [1.1e7, [-1.05, -1.00, -0.92, -0.88, -0.82, -0.78, -0.72, -0.70, -0.68, -0.65, -0.62, -0.65, -0.60, -0.58, -0.62, -0.58, -0.55, -0.60, -0.58, -0.55, -0.52, -0.58, -0.60]],
  [1.12e7, [-1.15, -1.10, -1.05, -0.98, -0.92, -0.88, -0.82, -0.80, -0.78, -0.75, -0.72, -0.70, -0.72, -0.68, -0.65, -0.68, -0.65, -0.62, -0.65, -0.68, -0.62, -0.65, -0.68]],
  [1.05e7, [-1.25, -1.20, -1.12, -1.05, -1.00, -0.95, -0.92, -0.88, -0.85, -0.82, -0.80, -0.78, -0.80, -0.75, -0.78, -0.75, -0.72, -0.75, -0.78, -0.72, -0.70, -0.75, -0.72]],
  [1.15e7, [-1.35, -1.28, -1.20, -1.15, -1.10, -1.05, -1.00, -0.98, -0.95, -0.92, -0.90, -0.88, -0.85, -0.88, -0.85, -0.82, -0.85, -0.88, -0.85, -0.82, -0.80, -0.85, -0.88]],
  [1.1e7, [-1.48, -1.40, -1.32, -1.25, -1.18, -1.12, -1.08, -1.05, -1.02, -1.00, -0.98, -0.95, -0.98, -0.95, -0.92, -0.95, -0.98, -0.95, -0.92, -0.95, -0.98, -1.00, -0.98]],
  [1.03e7, [-0.75, -0.72, -0.68, -0.62, -0.58, -0.52, -0.48, -0.45, -0.42, -0.40, -0.38, -0.42, -0.40, -0.38, -0.35, -0.40, -0.38, -0.35, -0.32, -0.28, -0.22, -0.30, -0.35]],
  [1.12e7, [-0.90, -0.92, -0.95, -0.92, -0.88, -0.85, -0.88, -0.90, -0.85, -0.82, -0.80, -0.78, -0.82, -0.85, -0.80, -0.78, -0.82, -0.85, -0.88, -0.85, -0.82, -0.85, -0.88]],
  [1.25e7, [-1.00, -1.02, -1.00, -0.95, -0.90, -0.92, -0.95, -0.98, -1.00, -1.02, -1.05, -1.00, -0.98, -1.02, -1.05, -1.08, -1.05, -1.02, -1.05, -1.08, -1.10, -1.12, -1.15]],
  [1.06e7, [-1.10, -1.05, -0.98, -0.90, -0.82, -0.75, -0.70, -0.65, -0.62, -0.58, -0.55, -0.52, -0.55, -0.52, -0.48, -0.50, -0.45, -0.42, -0.45, -0.48, -0.42, -0.40, -0.45]],
  [1.1e7, [-0.80, -0.78, -0.75, -0.72, -0.68, -0.65, -0.68, -0.70, -0.65, -0.62, -0.65, -0.68, -0.65, -0.62, -0.60, -0.62, -0.65, -0.68, -0.65, -0.60, -0.62, -0.65, -0.62]],
  [1.15e7, [-1.20, -1.15, -1.10, -1.05, -1.02, -1.00, -0.95, -0.90, -0.88, -0.85, -0.82, -0.85, -0.88, -0.90, -0.92, -0.90, -0.88, -0.92, -0.95, -0.92, -0.90, -0.92, -0.95]],
  [1.05e7, [-0.95, -0.90, -0.82, -0.75, -0.68, -0.62, -0.58, -0.55, -0.52, -0.55, -0.58, -0.55, -0.52, -0.50, -0.55, -0.58, -0.60, -0.55, -0.52, -0.55, -0.58, -0.60, -0.55]],
  [1.2e7, [-1.30, -1.25, -1.18, -1.12, -1.08, -1.02, -0.98, -0.95, -0.92, -0.95, -0.98, -1.00, -1.02, -1.00, -0.98, -0.95, -0.92, -0.95, -0.98, -1.00, -1.02, -1.05, -1.08]],
  [1.08e7, [-0.88, -0.85, -0.80, -0.75, -0.70, -0.72, -0.75, -0.72, -0.68, -0.72, -0.75, -0.72, -0.70, -0.72, -0.75, -0.78, -0.75, -0.72, -0.70, -0.72, -0.75, -0.78, -0.75]],
  [1.04e7, [-1.40, -1.35, -1.30, -1.22, -1.15, -1.10, -1.05, -1.00, -0.95, -0.90, -0.85, -0.82, -0.78, -0.75, -0.72, -0.70, -0.68, -0.65, -0.62, -0.60, -0.58, -0.55, -0.58]],
  [1.1e7, [-1.02, -0.98, -0.92, -0.86, -0.80, -0.76, -0.72, -0.68, -0.72, -0.75, -0.70, -0.66, -0.64, -0.68, -0.72, -0.70, -0.66, -0.62, -0.58, -0.62, -0.66, -0.70, -0.72]],
  [1.13e7, [-1.38, -1.30, -1.35, -1.25, -1.20, -1.15, -1.10, -1.12, -1.05, -1.00, -1.02, -0.98, -0.95, -0.98, -0.92, -0.95, -0.90, -0.88, -0.92, -0.88, -0.85, -0.90, -0.92]],
  [1.04e7, [-0.82, -0.85, -0.78, -0.72, -0.65, -0.60, -0.62, -0.55, -0.58, -0.52, -0.55, -0.50, -0.48, -0.52, -0.45, -0.48, -0.50, -0.45, -0.42, -0.45, -0.40, -0.45, -0.48]],
  [1.09e7, [-1.08, -1.12, -1.05, -1.00, -0.95, -0.98, -0.92, -0.88, -0.92, -0.85, -0.82, -0.85, -0.80, -0.78, -0.82, -0.78, -0.75, -0.80, -0.75, -0.72, -0.78, -0.75, -0.72]],
  [1.06e7, [-0.98, -0.95, -0.90, -0.85, -0.78, -0.72, -0.68, -0.65, -0.60, -0.62, -0.58, -0.55, -0.60, -0.58, -0.55, -0.52, -0.55, -0.50, -0.48, -0.52, -0.50, -0.55, -0.52]],
  [1.16e7, [-1.18, -1.22, -1.15, -1.10, -1.12, -1.05, -1.08, -1.02, -0.98, -1.00, -0.95, -0.98, -0.92, -0.95, -0.98, -0.92, -0.95, -0.98, -1.00, -0.95, -0.92, -0.95, -0.98]],
  [1.07e7, [-0.90, -0.88, -0.82, -0.78, -0.72, -0.75, -0.70, -0.72, -0.68, -0.65, -0.70, -0.68, -0.65, -0.62, -0.65, -0.62, -0.60, -0.62, -0.58, -0.55, -0.58, -0.62, -0.60]],
  [1.11e7, [-1.28, -1.22, -1.18, -1.12, -1.05, -1.00, -0.95, -0.90, -0.85, -0.82, -0.78, -0.75, -0.72, -0.70, -0.68, -0.72, -0.68, -0.65, -0.68, -0.70, -0.65, -0.62, -0.65]],
  [1.03e7, [-0.72, -0.70, -0.65, -0.60, -0.55, -0.50, -0.52, -0.48, -0.45, -0.50, -0.48, -0.45, -0.42, -0.45, -0.48, -0.45, -0.42, -0.40, -0.38, -0.35, -0.40, -0.42, -0.45]],
  [3.5e7, [-1.25, -1.22, -1.25, -1.30, -1.32, -1.35, -1.32, -1.30, -1.32, -1.35, -1.38, -1.42, -1.45, -1.50, -1.55, -1.58, -1.65, -1.72, -1.78, -1.82, -1.84, -1.87, -1.87]],
  [4.2e7, [-1.15, -1.18, -1.22, -1.28, -1.30, -1.32, -1.34, -1.33, -1.34, -1.34, -1.35, -1.38, -1.42, -1.48, -1.55, -1.65, -1.78, -1.90, -2.02, -2.12, -2.22, -2.35, -2.44]],
  [4.6e7, [-0.85, -0.86, -0.88, -0.92, -0.98, -1.00, -1.02, -1.05, -1.08, -1.10, -1.15, -1.20, -1.28, -1.32, -1.38, -1.45, -1.55, -1.68, -1.85, -2.00, -2.15, -2.28, -2.37]],
  [5.0e7, [-0.95, -0.90, -0.86, -0.70, -0.50, -0.35, -0.35, -0.42, -0.45, -0.45, -0.52, -0.58, -0.62, -0.68, -0.72, -0.78, -0.82, -0.86, -0.88, -0.92, -1.00, -1.12, -1.25]],
  [5.9e7, [-1.15, -1.18, -1.22, -1.27, -1.42, -1.62, -1.78, -1.90, -2.02, -2.18, -2.32, -2.46, -2.56, -2.62, -2.66, -2.69, -2.72, -2.75, -2.78, -2.80, -2.81, -2.82, -2.82]],
];

// ---------- panel labels (mathtext-like segments) ----------
const SUN = "\u2299";
const P1_LABEL = [{ t: "10" }, { t: "10", k: "sup" }, { t: "M", it: true }, { t: SUN, k: "sub" }, { t: " < " }, { t: "M", it: true }, { t: "200", k: "sub" }];
const P2_LABEL = [{ t: "10" }, { t: "9", k: "sup" }, { t: "M", it: true }, { t: SUN, k: "sub" }, { t: " < " }, { t: "M", it: true }, { t: "200", k: "sub" }, { t: " < 10" }, { t: "10", k: "sup" }, { t: "M", it: true }, { t: SUN, k: "sub" }];
const P3_LABEL = [{ t: "5 \u00d7 10" }, { t: "8", k: "sup" }, { t: "M", it: true }, { t: SUN, k: "sub" }, { t: " < " }, { t: "M", it: true }, { t: "200", k: "sub" }, { t: " < 10" }, { t: "9", k: "sup" }, { t: "M", it: true }, { t: SUN, k: "sub" }];
const P4_LABEL = [{ t: "2 \u00d7 10" }, { t: "8", k: "sup" }, { t: "M", it: true }, { t: SUN, k: "sub" }, { t: " < " }, { t: "M", it: true }, { t: "200", k: "sub" }, { t: " < 5 \u00d7 10" }, { t: "8", k: "sup" }, { t: "M", it: true }, { t: SUN, k: "sub" }];
const P5_LABEL = [{ t: "10" }, { t: "8", k: "sup" }, { t: "M", it: true }, { t: SUN, k: "sub" }, { t: " < " }, { t: "M", it: true }, { t: "200", k: "sub" }, { t: " < 2 \u00d7 10" }, { t: "8", k: "sup" }, { t: "M", it: true }, { t: SUN, k: "sub" }];
const P6_LABEL = [{ t: "M", it: true }, { t: "200", k: "sub" }, { t: " < 10" }, { t: "8", k: "sup" }, { t: "M", it: true }, { t: SUN, k: "sub" }];

const PANELS = [
  { avg: P1_AVG, storm: P1_STORM, dmo: P1_DMO, label: P1_LABEL, ly: 217 },
  { avg: P2_AVG, storm: P2_STORM, dmo: P2_DMO, label: P2_LABEL, ly: 277 },
  { avg: P3_AVG, storm: P3_STORM, dmo: P3_DMO, label: P3_LABEL, ly: 277 },
  { avg: P4_AVG, storm: [], dmo: P4_DMO, label: P4_LABEL, ly: 336 },
  { avg: P5_AVG, storm: [], dmo: P5_DMO, label: P5_LABEL, ly: 336 },
  { avg: P6_AVG, storm: [], dmo: P6_DMO, label: P6_LABEL, ly: 336 },
];

// ---------- layout ----------
const W = 1167, H = 662;
const LEFT = 99.3, RIGHT = 1044.5;
const ROWS = [[7, 305.5], [305.5, 603.3]];
const COLW = (RIGHT - LEFT) / 3;
const CB = { x0: 1055, x1: 1085, y0: 6.5, y1: 603.3 };

const SERIF = "DejaVu Serif";
const SANS = "DejaVu Sans";
const MINUS = "\u2212";

const cmapScale = d3.scaleLinear<string>()
  .domain(CMAP_COLORS.map((_, i) => i / (CMAP_COLORS.length - 1)))
  .range(CMAP_COLORS.map((c) => (d3.color(c) as any).formatHex()))
  .interpolate(d3.interpolateRgb)
  .clamp(true);
const densFrac = d3.scaleLog().domain([DENS_MIN, DENS_MAX]).range([0, 1]).clamp(true);
const densColor = (d: number) => cmapScale(densFrac(d));

function MathText({ x, y, segs, size, family }: any) {
  let cur = 0;
  const spans = segs.map((s: any, i: number) => {
    const target = s.k === "sup" ? -0.4 * size : s.k === "sub" ? 0.24 * size : 0;
    const dy = target - cur;
    cur = target;
    return (
      <tspan key={i} dy={dy} fontSize={s.k ? size * 0.7 : size} fontStyle={s.it ? "italic" : "normal"}>
        {s.t}
      </tspan>
    );
  });
  return (
    <text x={x} y={y} fontFamily={family || SANS} fontSize={size} fill="#000" style={{ whiteSpace: "pre" }}>
      {spans}
    </text>
  );
}

function fmt(v: number) {
  const s = Math.abs(v).toFixed(1);
  return (v < 0 ? MINUS : "") + s;
}

function Panel({ idx, p }: any) {
  const col = idx % 3;
  const row = Math.floor(idx / 3);
  const x0 = LEFT + col * COLW;
  const x1 = x0 + COLW;
  const [y0, y1] = ROWS[row];
  const xs = d3.scaleLinear().domain([2.8, 13.9]).range([x0, x1]);
  const ys = d3.scaleLinear().domain([-3, 0.3]).range([y1, y0]);
  const mk = (times: number[]) =>
    d3.line<number>().x((_, i) => xs(times[i])).y((v) => ys(v));
  const lineC = mk(T_COARSE);
  const lineF = mk(T_FINE);
  const clipId = `clip-${idx}`;
  const dmoSorted = [...p.dmo].sort((a: any, b: any) => a[0] - b[0]);
  return (
    <g>
      <defs>
        <clipPath id={clipId}>
          <rect x={x0} y={y0} width={COLW} height={y1 - y0} />
        </clipPath>
      </defs>
      <g clipPath={`url(#${clipId})`} fill="none" strokeLinejoin="round">
        {dmoSorted.map((s: any, i: number) => (
          <path key={"d" + i} d={lineC(s[1].slice(0, T_COARSE.length)) || ""} stroke={densColor(s[0])} strokeOpacity={s[0] < 1.4e7 ? 0.42 : 0.36} strokeWidth={1.7} />
        ))}
        {p.storm.map((s: number[], i: number) => (
          <path key={"s" + i} d={lineC(s.slice(0, T_COARSE.length)) || ""} stroke="#ff00ff" strokeOpacity={0.5} strokeWidth={2.3} />
        ))}
        <path d={lineF(p.avg.slice(0, T_FINE.length)) || ""} stroke="#000" strokeWidth={3} />
      </g>
      <rect x={x0} y={y0} width={COLW} height={y1 - y0} fill="none" stroke="#222" strokeWidth={1} />
      {Y_TICKS.map((t) => {
        const y = ys(t);
        return (
          <g key={"yt" + t}>
            {col === 0 ? (
              <line x1={x0 - 4.5} x2={x0} y1={y} y2={y} stroke="#222" strokeWidth={1} />
            ) : (
              <line x1={x0} x2={x0 + 4} y1={y} y2={y} stroke="#222" strokeWidth={1} />
            )}
            <line x1={x1 - 4} x2={x1} y1={y} y2={y} stroke="#222" strokeWidth={1} />
            {col === 0 && (
              <text x={x0 - 8} y={y + 6.3} textAnchor="end" fontFamily={SERIF} fontSize={17.5} fill="#000">
                {fmt(t)}
              </text>
            )}
          </g>
        );
      })}
      {row === 1 &&
        X_TICKS.map((t) => (
          <g key={"xt" + t}>
            <line x1={xs(t)} x2={xs(t)} y1={y1} y2={y1 + 4.7} stroke="#222" strokeWidth={1} />
            <text x={xs(t)} y={y1 + 25} textAnchor="middle" fontFamily={SERIF} fontSize={17.5} fill="#000">
              {t.toFixed(1)}
            </text>
          </g>
        ))}
      {row === 1 && (
        <text x={(x0 + x1) / 2} y={656} textAnchor="middle" fontFamily={SERIF} fontSize={25} fill="#000">
          Time [Gyr]
        </text>
      )}
      <MathText x={x0 + 0.1 * COLW} y={p.ly} segs={p.label} size={17.5} />
    </g>
  );
}

export default function App() {
  const cbScale = d3.scaleLog().domain([DENS_MIN, DENS_MAX]).range([CB.y1, CB.y0]);
  const gradStops = CMAP_COLORS.map((c, i) => ({ off: i / (CMAP_COLORS.length - 1), c }));
  return (
    <svg width={W} height={H} viewBox={`0 0 ${W} ${H}`} style={{ position: "absolute", left: 0, top: 0, background: "#fff" }}>
      <rect x={0} y={0} width={W} height={H} fill="#fff" />
      <defs>
        <linearGradient id="cbgrad" x1="0" y1="1" x2="0" y2="0">
          {gradStops.map((s, i) => (
            <stop key={i} offset={s.off} stopColor={s.c} />
          ))}
        </linearGradient>
      </defs>
      {PANELS.map((p, i) => (
        <Panel key={i} idx={i} p={p} />
      ))}

      {ROWS.map((r, i) => (
        <text key={"yl" + i} transform={`translate(37,${(r[0] + r[1]) / 2 + 4}) rotate(-90)`} textAnchor="middle" fontFamily={SERIF} fontSize={25} fill="#000">
          <tspan fontFamily={SANS} fontStyle="italic">α</tspan>
          <tspan> (0.33 kpc)</tspan>
        </text>
      ))}

      <g>
        <rect x={108} y={236} width={287} height={60} rx={3} fill="#fff" fillOpacity={0.8} stroke="#d0d0d0" strokeWidth={1} />
        <line x1={115} x2={155} y1={250} y2={250} stroke="#ff00ff" strokeOpacity={0.5} strokeWidth={2.3} />
        <text x={169} y={256.5} fontFamily={SERIF} fontSize={19} fill="#000">Storm+baryons</text>
        <line x1={115} x2={155} y1={277} y2={277} stroke="#5b7be8" strokeOpacity={0.45} strokeWidth={1.7} />
        <text x={169} y={283.5} fontFamily={SERIF} fontSize={19} fill="#000">Ms.Marvel SIDM DMO</text>
      </g>
      <g>
        <rect x={108} y={562} width={144} height={32} rx={3} fill="#fff" fillOpacity={0.8} stroke="#d0d0d0" strokeWidth={1} />
        <line x1={115} x2={155} y1={577} y2={577} stroke="#000" strokeWidth={3} />
        <text x={169} y={583.5} fontFamily={SERIF} fontSize={19} fill="#000">average</text>
      </g>

      <rect x={CB.x0} y={CB.y0} width={CB.x1 - CB.x0} height={CB.y1 - CB.y0} fill="url(#cbgrad)" stroke="#222" strokeWidth={1} />
      {CB_MINOR.map((d) => (
        <line key={"m" + d} x1={CB.x1} x2={CB.x1 + 2.5} y1={cbScale(d)} y2={cbScale(d)} stroke="#222" strokeWidth={0.8} />
      ))}
      {CB_MAJOR.map((d) => (
        <g key={"M" + d}>
          <line x1={CB.x1} x2={CB.x1 + 4.5} y1={cbScale(d)} y2={cbScale(d)} stroke="#222" strokeWidth={1} />
          <MathText x={CB.x1 + 8} y={cbScale(d) + 6.3} family={SERIF} size={17.5} segs={[{ t: "10" }, { t: String(Math.round(Math.log10(d))), k: "sup" }]} />
        </g>
      ))}
      <text transform={`translate(1155,${(CB.y0 + CB.y1) / 2}) rotate(-90)`} textAnchor="middle" fontFamily={SERIF} fontSize={25} fill="#000" style={{ whiteSpace: "pre" }}>
        <tspan>Central Density at Z=0 [</tspan>
        <tspan fontFamily={SANS} fontStyle="italic">M</tspan>
        <tspan fontFamily={SANS} fontSize={17.5} dy={5}>{SUN}</tspan>
        <tspan dy={-5}> kpc</tspan>
        <tspan fontSize={17.5} dy={-10}>{MINUS}3</tspan>
        <tspan dy={10}>]</tspan>
      </text>
    </svg>
  );
}
